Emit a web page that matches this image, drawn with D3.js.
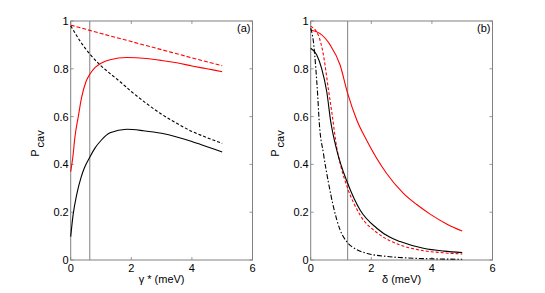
<!DOCTYPE html>
<html><head><meta charset="utf-8">
<script src="https://cdn.jsdelivr.net/npm/d3@7"></script>
<style>body{margin:0;background:#fff}svg{display:block}text{font-family:"Liberation Sans",Arial,sans-serif;}</style>
</head><body><svg id="c" width="545" height="293"></svg>
<script>
// Panel (a): x = gamma* (meV)
const aRedDashed = [[0,0.983],[1,0.948],[2,0.914],[3,0.880],[4,0.846],[5,0.813]];
const aBlackDashed = [[0,0.98],[0.3,0.918],[0.63,0.862],[0.97,0.816],[1.3,0.78],[1.63,0.746],[2,0.705],[2.5,0.655],[2.95,0.614],[3.5,0.572],[4,0.538],[4.5,0.512],[5,0.488]];
const aRedSolid = [[0,0.37],[0.07,0.43],[0.14,0.515],[0.25,0.60],[0.36,0.68],[0.5,0.745],[0.63,0.777],[0.8,0.805],[1.0,0.823],[1.3,0.838],[1.85,0.847],[2.5,0.843],[3,0.835],[3.5,0.825],[4,0.812],[4.5,0.80],[5,0.788]];
const aBlackSolid = [[0,0.098],[0.08,0.19],[0.2,0.275],[0.34,0.345],[0.45,0.385],[0.63,0.43],[0.8,0.468],[1.0,0.50],[1.3,0.532],[1.85,0.547],[2.4,0.541],[3,0.53],[3.5,0.515],[4,0.496],[4.5,0.474],[5,0.452]];
const aMarker = 0.63;
// Panel (b): x = delta (meV)
const bRedSolid = [[0,0.962],[0.3,0.948],[0.64,0.90],[0.97,0.816],[1.22,0.697],[1.52,0.586],[1.85,0.50],[2.5,0.363],[3.06,0.279],[3.5,0.232],[3.94,0.192],[4.5,0.150],[5,0.121]];
const bRedDashed = [[0,0.978],[0.25,0.941],[0.42,0.858],[0.58,0.718],[0.7,0.615],[0.86,0.47],[1.0,0.39],[1.22,0.30],[1.63,0.188],[2.18,0.115],[2.62,0.08],[2.95,0.063],[3.72,0.039],[4.4,0.03],[5,0.025]];
const bBlackSolid = [[0,0.886],[0.2,0.858],[0.36,0.802],[0.53,0.704],[0.66,0.58],[0.86,0.46],[1.22,0.321],[1.63,0.209],[2.18,0.133],[2.62,0.095],[2.95,0.077],[3.72,0.049],[4.4,0.037],[5,0.031]];
const bBlackDashDot = [[0,0.97],[0.09,0.913],[0.17,0.80],[0.23,0.69],[0.28,0.58],[0.42,0.446],[0.58,0.328],[0.75,0.223],[0.97,0.126],[1.22,0.072],[1.5,0.045],[1.85,0.028],[2.5,0.015],[3,0.01],[4,0.005],[5,0.003]];
const bMarker = 1.22;
const xTicks = [0,2,4,6];
const yTicks = [0,0.2,0.4,0.6,0.8,1];
const yTickLabels = ["0","0.2","0.4","0.6","0.8","1"];

const svg = d3.select("#c");
const plotTop = 21, plotBottom = 260;
const AX = "#808080";

function panel(left, right, series, marker, xlab, tag){
  const x = d3.scaleLinear().domain([0,6]).range([left,right]);
  const y = d3.scaleLinear().domain([0,1]).range([plotBottom,plotTop]);
  const g = svg.append("g");
  const tl = 3;
  xTicks.forEach(t=>{
    g.append("line").attr("x1",x(t)).attr("x2",x(t)).attr("y1",plotBottom).attr("y2",plotBottom-tl).attr("stroke",AX).attr("stroke-width",0.8);
    g.append("line").attr("x1",x(t)).attr("x2",x(t)).attr("y1",plotTop).attr("y2",plotTop+tl).attr("stroke",AX).attr("stroke-width",0.8);
    g.append("text").attr("x",x(t)).attr("y",plotBottom+12).attr("text-anchor","middle").attr("font-size",11).attr("fill","#000").text(t);
  });
  yTicks.forEach((t,i)=>{
    g.append("line").attr("x1",left).attr("x2",left+tl).attr("y1",y(t)).attr("y2",y(t)).attr("stroke",AX).attr("stroke-width",0.8);
    g.append("line").attr("x1",right).attr("x2",right-tl).attr("y1",y(t)).attr("y2",y(t)).attr("stroke",AX).attr("stroke-width",0.8);
    g.append("text").attr("x",left-2).attr("y",y(t)+4).attr("text-anchor","end").attr("font-size",11).attr("fill","#000").text(yTickLabels[i]);
  });
  g.append("rect").attr("x",left).attr("y",plotTop).attr("width",right-left).attr("height",plotBottom-plotTop).attr("fill","none").attr("stroke",AX).attr("stroke-width",1);
  g.append("line").attr("x1",x(marker)).attr("x2",x(marker)).attr("y1",plotTop).attr("y2",plotBottom).attr("stroke",AX).attr("stroke-width",1);
  const line = d3.line().x(d=>x(d[0])).y(d=>y(d[1])).curve(d3.curveMonotoneX);
  series.forEach(s=>{
    g.append("path").attr("d",line(s.data)).attr("fill","none").attr("stroke",s.color).attr("stroke-width",1.1).attr("stroke-dasharray",s.dash||null);
  });
  g.append("text").attr("x",(left+right)/2).attr("y",283).attr("text-anchor","middle").attr("font-size",11).text(xlab);
  const yl = g.append("text").attr("transform",`translate(${left-32},${(plotTop+plotBottom)/2+3}) rotate(-90)`).attr("text-anchor","middle").attr("font-size",11);
  yl.append("tspan").text("P");
  yl.append("tspan").attr("dy",5).attr("dx",2).attr("font-size",11).text("cav");
  g.append("text").attr("x",right-2).attr("y",plotTop+11).attr("text-anchor","end").attr("font-size",11).text(tag);
}

panel(70.7, 252.5, [
  {data:aRedDashed,color:"#ff0000",dash:"4,2"},
  {data:aBlackDashed,color:"#000",dash:"3,2"},
  {data:aRedSolid,color:"#ff0000"},
  {data:aBlackSolid,color:"#000"}
], aMarker, "\u03b3 * (meV)", "(a)");

panel(310.7, 492.5, [
  {data:bRedSolid,color:"#ff0000"},
  {data:bRedDashed,color:"#ff0000",dash:"3,2"},
  {data:bBlackSolid,color:"#000"},
  {data:bBlackDashDot,color:"#000",dash:"5,2,1.5,2"}
], bMarker, "\u03b4 (meV)", "(b)");
</script></body></html>
